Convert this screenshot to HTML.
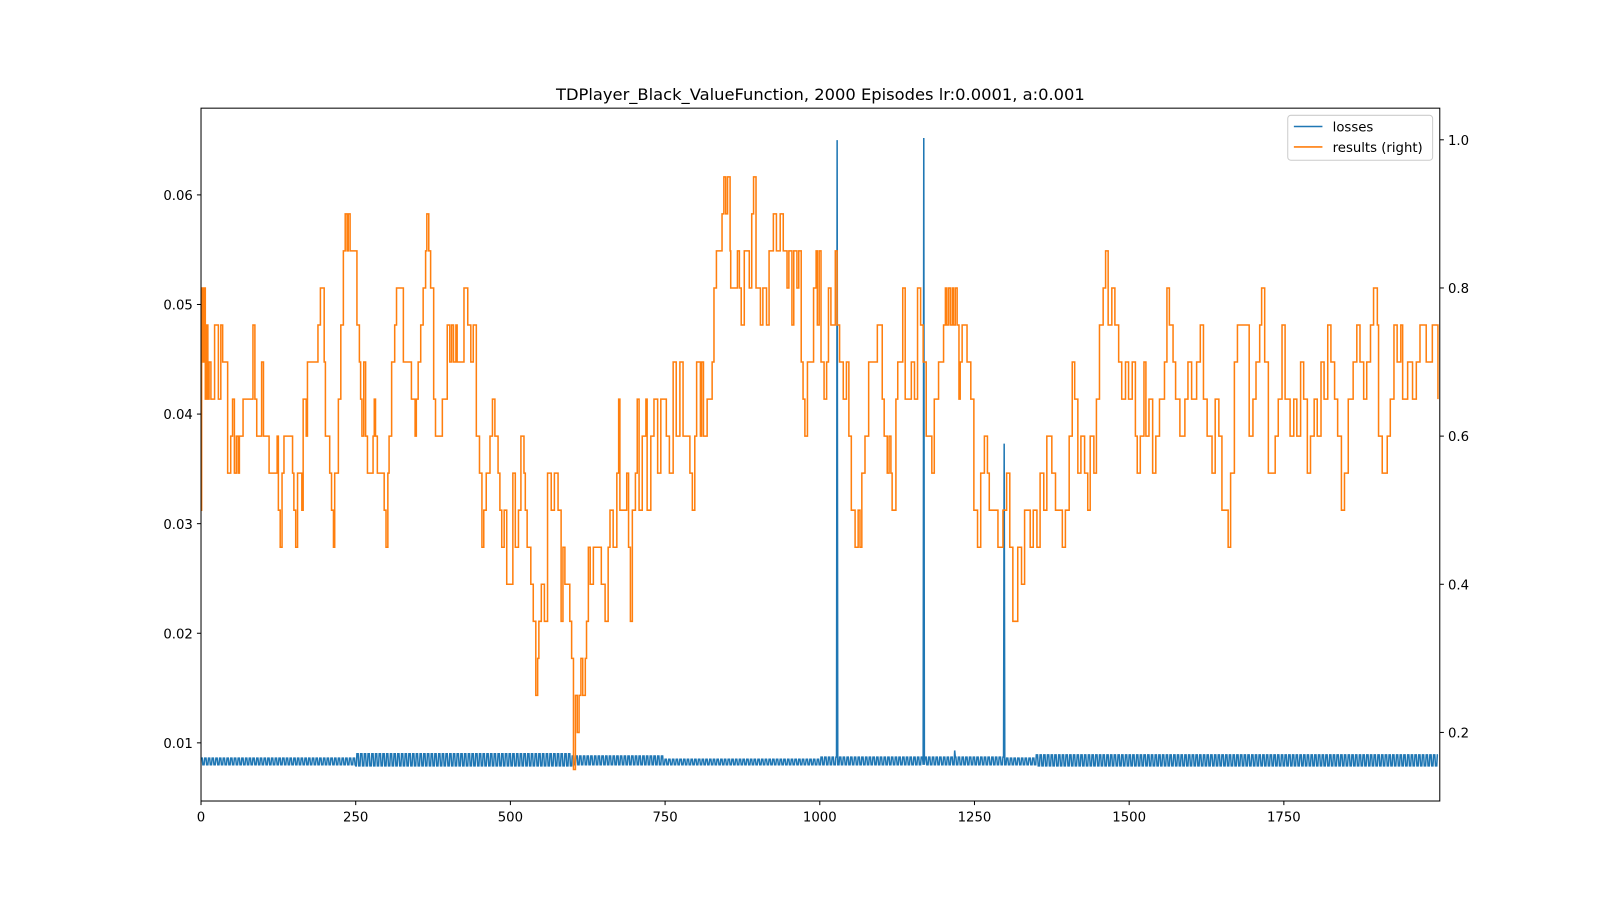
<!DOCTYPE html>
<html><head><meta charset="utf-8"><style>
html,body{margin:0;padding:0;background:#fff;}
svg text{font-family:"DejaVu Sans","Liberation Sans",sans-serif;fill:#000;}
</style></head><body>
<svg id="chart" width="1600" height="900" xmlns="http://www.w3.org/2000/svg">
<rect width="1600" height="900" fill="#fff"/>
<g transform="scale(1.0204)">
<text x="804" y="98" font-size="16" text-anchor="middle">TDPlayer_Black_ValueFunction, 2000 Episodes lr:0.0001, a:0.001</text>
<g id="plot"></g>
<g id="axes"></g>
<g>
<rect x="1262" y="113" width="142" height="44" rx="3" fill="#fff" fill-opacity="0.8" stroke="#ccc"/>
<line x1="1268" y1="124" x2="1296" y2="124" stroke="#1f77b4" stroke-width="1.5"/>
<text x="1306" y="129" font-size="13">losses</text>
<line x1="1268" y1="144" x2="1296" y2="144" stroke="#ff7f0e" stroke-width="1.5"/>
<text x="1306" y="149" font-size="13">results (right)</text>
</g>
</g>
</svg>
<script>
const xTicks=[0,250,500,750,1000,1250,1500,1750];
const yLeftTicks=[0.01,0.02,0.03,0.04,0.05,0.06];
const yRightTicks=[0.2,0.4,0.6,0.8,1.0];
const resultEpisodes=[0,1,3,5,7,9,11,13,16,22,28,32,35,43,48,51,54,57,60,62,68,84,87,90,98,101,110,123,125,128,131,134,148,150,153,156,163,165,170,172,189,193,197,199,201,208,211,214,216,222,226,230,233,236,238,241,249,252,256,258,260,263,266,269,278,280,282,285,296,299,302,304,308,313,316,325,327,337,340,346,348,351,355,359,363,365,368,371,376,379,387,390,398,402,405,408,412,414,425,431,436,440,445,450,454,457,461,467,471,475,480,483,486,490,494,504,508,513,517,522,524,527,533,537,541,544,546,550,555,560,566,571,577,582,585,588,596,599,602,605,608,611,614,617,621,623,626,629,634,
642,647,653,658,661,666,672,675,677,688,691,694,697,702,705,708,713,719,721,727,732,738,743,752,757,763,768,774,779,787,790,794,798,801,807,809,812,818,826,829,833,842,845,848,851,855,856,867,870,873,878,886,890,893,897,904,908,914,918,925,930,936,941,947,950,955,958,963,966,970,973,976,980,990,994,996,999,1002,1007,1011,1014,1018,1025,1028,1032,1038,1043,1047,1051,1057,1062,1065,1068,1073,1079,1093,1101,1104,1109,1112,1115,1117,1123,1126,1134,1138,1148,1153,1158,1163,1167,1172,1181,1185,1192,1200,1203,1205,1208,1211,1214,1216,1219,1222,1225,1227,1230,1238,1244,1249,1255,1260,1266,1271,1274,1288,1296,1302,
1307,1312,1320,1326,1331,1340,1345,1351,1356,1362,1367,1375,1381,1392,1397,1403,1408,1412,1417,1422,1428,1433,1437,1443,1447,1452,1458,1462,1466,1472,1477,1483,1488,1494,1499,1505,1510,1513,1518,1524,1527,1532,1538,1543,1549,1557,1561,1565,1571,1575,1582,1590,1595,1601,1609,1615,1620,1626,1634,1639,1645,1650,1660,1664,1670,1675,1689,1694,1700,1705,1711,1714,1719,1725,1736,1741,1747,1752,1760,1766,1771,1777,1782,1788,1793,1799,1804,1810,1815,1821,1826,1832,1837,1843,1848,1854,1862,1868,1873,1879,1884,1890,1895,1901,1903,1909,1917,1922,1928,1933,1939,1942,1950,1958,1964,1970,1980,1990,1999];
const resultValues=[0.5,0.8,0.7,0.8,0.65,0.75,0.65,0.7,0.65,0.75,0.65,0.75,0.7,0.55,0.6,0.65,0.55,0.6,0.55,0.6,0.65,0.75,0.65,0.6,0.7,0.6,0.55,0.6,0.5,0.45,0.55,0.6,0.55,0.5,0.45,0.55,0.5,0.65,0.6,0.7,0.75,0.8,0.8,0.7,0.6,0.55,0.5,0.45,0.55,0.65,0.75,0.85,0.9,0.85,0.9,0.85,0.85,0.75,0.7,0.65,0.6,0.7,0.6,0.55,0.6,0.65,0.6,0.55,0.5,0.45,0.55,0.6,0.7,0.75,0.8,0.8,0.7,0.7,0.65,0.6,0.65,0.7,0.75,0.8,0.85,0.9,0.85,0.8,0.65,0.6,0.6,0.65,0.75,0.7,0.75,0.7,0.75,0.7,0.8,0.75,0.7,0.75,0.6,0.55,0.45,0.5,0.55,0.6,0.65,0.6,0.55,0.5,0.45,0.5,0.4,0.55,0.45,0.5,0.6,0.55,0.5,0.45,0.4,0.35,0.25,0.3,0.35,0.4,0.35,0.55,0.5,0.55,0.5,0.35,0.45,0.4,0.35,0.3,0.15,0.25,0.2,0.25,0.3,0.25,0.3,0.35,0.45,0.4,0.45,
0.45,0.4,0.35,0.45,0.5,0.45,0.55,0.65,0.5,0.55,0.45,0.35,0.5,0.55,0.65,0.5,0.6,0.65,0.5,0.6,0.65,0.55,0.65,0.6,0.55,0.7,0.6,0.7,0.6,0.6,0.55,0.5,0.6,0.7,0.6,0.7,0.6,0.65,0.7,0.8,0.85,0.9,0.95,0.9,0.95,0.85,0.8,0.85,0.8,0.75,0.85,0.8,0.9,0.95,0.8,0.75,0.8,0.75,0.85,0.9,0.85,0.9,0.85,0.8,0.85,0.75,0.85,0.8,0.85,0.7,0.65,0.6,0.7,0.8,0.85,0.75,0.85,0.7,0.65,0.7,0.8,0.75,0.85,0.75,0.7,0.65,0.7,0.6,0.5,0.45,0.5,0.45,0.55,0.6,0.7,0.75,0.65,0.6,0.55,0.6,0.55,0.5,0.65,0.7,0.8,0.65,0.7,0.65,0.8,0.75,0.7,0.6,0.55,0.65,0.7,0.75,0.8,0.75,0.8,0.75,0.8,0.75,0.8,0.75,0.65,0.7,0.75,0.7,0.65,0.5,0.45,0.55,0.6,0.55,0.5,0.45,0.5,0.55,
0.45,0.35,0.45,0.4,0.5,0.45,0.5,0.45,0.55,0.5,0.6,0.55,0.5,0.45,0.5,0.6,0.7,0.65,0.55,0.6,0.55,0.5,0.6,0.55,0.65,0.75,0.8,0.85,0.75,0.8,0.75,0.7,0.65,0.7,0.65,0.7,0.6,0.55,0.6,0.7,0.6,0.65,0.55,0.6,0.65,0.7,0.8,0.75,0.7,0.65,0.6,0.65,0.7,0.65,0.7,0.75,0.65,0.6,0.55,0.65,0.6,0.5,0.45,0.55,0.7,0.75,0.75,0.6,0.65,0.7,0.75,0.8,0.7,0.55,0.6,0.65,0.75,0.65,0.6,0.65,0.6,0.7,0.65,0.55,0.6,0.65,0.6,0.7,0.65,0.75,0.7,0.65,0.6,0.5,0.55,0.65,0.7,0.75,0.7,0.65,0.7,0.75,0.8,0.75,0.6,0.55,0.6,0.65,0.75,0.7,0.75,0.65,0.7,0.65,0.7,0.75,0.7,0.75,0.65];
const lossBucketStart=[0,250,600,750,1000,1300,1350,1650];
const lossHigh=[0.0086,0.0090,0.0088,0.0085,0.0087,0.0086,0.0089,0.0089];
const lossLow=[0.0080,0.0079,0.0080,0.0080,0.0080,0.0080,0.0079,0.0079];
const lossSpikeEpisodes=[1028,1168,1218,1298];
const lossSpikeValues=[0.065,0.0652,0.0093,0.0373];

const NS='http://www.w3.org/2000/svg';
const L=197,R=1411,T=106,B=785;
const X=e=>L+(e-0)*(R-L)/2002;
const YL=v=>728-(v-0.01)*10740;
const YR=v=>137+(1.0-v)*726;
const plot=document.getElementById('plot'),axes=document.getElementById('axes');
function mk(tag,attrs,parent){const el=document.createElementNS(NS,tag);for(const k in attrs)el.setAttribute(k,attrs[k]);parent.appendChild(el);return el;}

let pts=[];
for(let e=0;e<2000;e++){
  let b=0;for(let i=0;i<lossBucketStart.length;i++)if(e>=lossBucketStart[i])b=i;
  let v=(Math.floor(e/3)%2===0)?lossHigh[b]:lossLow[b];
  const k=lossSpikeEpisodes.indexOf(e);if(k>=0)v=lossSpikeValues[k];
  pts.push(X(e).toFixed(1)+','+YL(v).toFixed(1));
}
const lossLine=mk('polyline',{points:pts.join(' '),fill:'none',stroke:'#1f77b4','stroke-width':1.5},plot);



let rp=[];
for(let i=0;i<resultEpisodes.length;i++){
  if(i>0)rp.push(X(resultEpisodes[i]).toFixed(1)+','+YR(resultValues[i-1]).toFixed(1));
  rp.push(X(resultEpisodes[i]).toFixed(1)+','+YR(resultValues[i]).toFixed(1));
}
const resLine=mk('polyline',{points:rp.join(' '),fill:'none',stroke:'#ff7f0e','stroke-width':1.5},plot);



const fr=mk('rect',{x:L,y:T,width:R-L,height:B-T,fill:'none',stroke:'#000','stroke-width':1},axes);


xTicks.forEach(t=>{
  const x=X(t);
  mk('line',{x1:x,y1:B,x2:x,y2:B+4,stroke:'#000'},axes);
  const tx=mk('text',{x:x,y:B+20,'font-size':13,'text-anchor':'middle'},axes);tx.textContent=t;
  
  
});
yLeftTicks.forEach(t=>{
  const y=YL(t);
  mk('line',{x1:L-4,y1:y,x2:L,y2:y,stroke:'#000'},axes);
  const tx=mk('text',{x:L-8,y:y+5,'font-size':13,'text-anchor':'end'},axes);tx.textContent=t.toFixed(2);
  
  
});
yRightTicks.forEach(t=>{
  const y=YR(t);
  mk('line',{x1:R,y1:y,x2:R+4,y2:y,stroke:'#000'},axes);
  const tx=mk('text',{x:R+8,y:y+5,'font-size':13},axes);tx.textContent=t.toFixed(1);
  
  
});
</script>
</body></html>
